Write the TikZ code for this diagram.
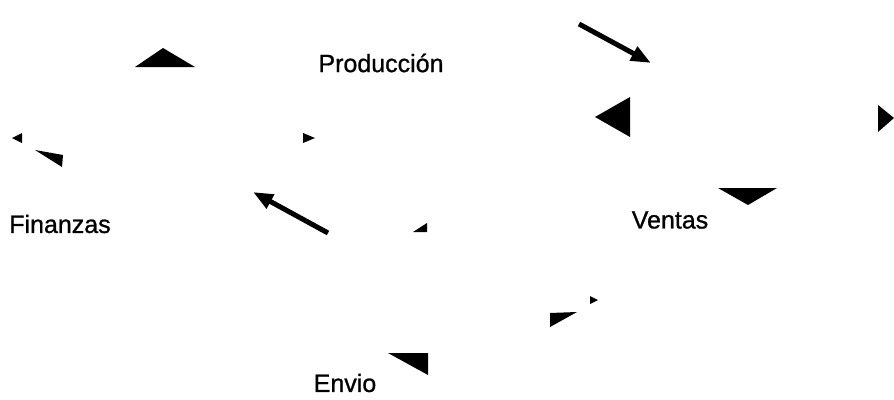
\documentclass[tikz,border=0pt]{standalone}
\usepackage{fontspec}
\setmainfont{Liberation Sans}
\newfontfamily\lblfont{Liberation Sans}[FakeBold=0.9]
\usetikzlibrary{arrows.meta}
\begin{document}
\begin{tikzpicture}[x=1pt,y=-1pt,
  lbl/.style={font=\lblfont\fontsize{25}{28}\selectfont, inner sep=0pt},
  head/.style={fill=black, draw=none},
  conn/.style={line width=5pt, -{Triangle[length=20pt,width=15pt]}}]
\useasboundingbox (0,0) rectangle (894,399);
% labels
\node[lbl] (prod) at (381,63) {Producción};
\node[lbl] (fin) at (60,224) {Finanzas};
\node[lbl] (ven) at (670,220) {Ventas};
\node[lbl] (env) at (345,383) {Envio};
% connector fragments
\coordinate (a1s) at (579,24);
\coordinate (a1e) at (651,63);
\draw[conn] (a1s) -- (a1e);
\coordinate (a2s) at (328,233);
\coordinate (a2e) at (253,192);
\draw[conn] (a2s) -- (a2e);
% isolated arrowheads
\fill[head] (163,48) -- (195,67) -- (135,67) -- cycle;
\fill[head] (12,138) -- (22,133) -- (22,143) -- cycle;
\fill[head] (35,150) -- (63,155) -- (62,167) -- cycle;
\fill[head] (315,138) -- (303,133) -- (303,143) -- cycle;
\fill[head] (413,232) -- (427,223) -- (427,232) -- cycle;
\fill[head] (388,353) -- (428,353) -- (428,375) -- cycle;
\fill[head] (595,117) -- (630,97) -- (630,137) -- cycle;
\fill[head] (894,118) -- (878,105) -- (878,132) -- cycle;
\fill[head] (718,188) -- (777,188) -- (748,205) -- cycle;
\fill[head] (550,313) -- (577,312) -- (550,327) -- cycle;
\fill[head] (598,300) -- (590,296) -- (590,304) -- cycle;
\end{tikzpicture}
\end{document}
